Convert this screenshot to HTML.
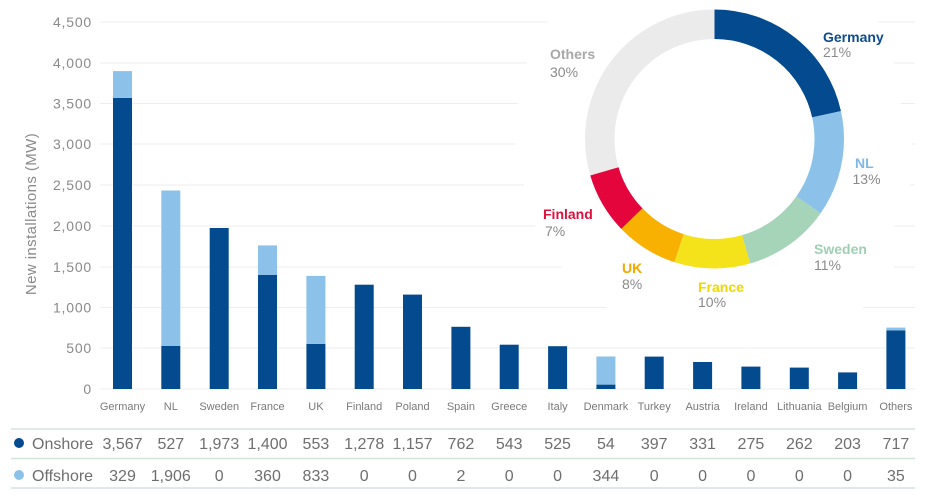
<!DOCTYPE html>
<html>
<head>
<meta charset="utf-8">
<style>
html,body{margin:0;padding:0;background:#fff;}
svg{display:block;}
text{font-family:"Liberation Sans",Arial,sans-serif;}
</style>
</head>
<body>
<svg width="926" height="500" viewBox="0 0 926 500" xmlns="http://www.w3.org/2000/svg">
  <rect width="926" height="500" fill="#fff"/>
  <!-- gridlines -->
  <g stroke="#eeeeee" stroke-width="1">
    <line x1="100" y1="22" x2="915" y2="22"/>
    <line x1="100" y1="63" x2="915" y2="63"/>
    <line x1="100" y1="103.5" x2="915" y2="103.5"/>
    <line x1="100" y1="144" x2="915" y2="144"/>
    <line x1="100" y1="185" x2="915" y2="185"/>
    <line x1="100" y1="226" x2="915" y2="226"/>
    <line x1="100" y1="267" x2="915" y2="267"/>
    <line x1="100" y1="307.5" x2="915" y2="307.5"/>
    <line x1="100" y1="348" x2="915" y2="348"/>
    <line x1="100" y1="389" x2="915" y2="389"/>
  </g>
  <!-- y tick labels -->
  <g fill="#8a8a8a" font-size="14" text-anchor="end" letter-spacing="0.8">
    <text x="92" y="27">4,500</text>
    <text x="92" y="68">4,000</text>
    <text x="92" y="108.5">3,500</text>
    <text x="92" y="149">3,000</text>
    <text x="92" y="190">2,500</text>
    <text x="92" y="231">2,000</text>
    <text x="92" y="272">1,500</text>
    <text x="92" y="312.5">1,000</text>
    <text x="92" y="353">500</text>
    <text x="92" y="394">0</text>
  </g>
  <text transform="translate(36,214) rotate(-90)" text-anchor="middle" fill="#8a8a8a" font-size="15" letter-spacing="0.4">New installations (MW)</text>

  <!-- bars: zero y=389, scale 0.0816 px/MW, centers 122.5 + i*48.34, width 19 -->
  <g>
    <!-- Germany 3567/329 -->
    <rect x="113" y="97.9" width="19" height="291.1" fill="#034a8e"/>
    <rect x="113" y="71.1" width="19" height="26.8" fill="#8cc2ea"/>
    <!-- NL 527/1906 -->
    <rect x="161.3" y="346" width="19" height="43" fill="#034a8e"/>
    <rect x="161.3" y="190.5" width="19" height="155.5" fill="#8cc2ea"/>
    <!-- Sweden 1973 -->
    <rect x="209.7" y="228" width="19" height="161" fill="#034a8e"/>
    <!-- France 1400/360 -->
    <rect x="258" y="274.8" width="19" height="114.2" fill="#034a8e"/>
    <rect x="258" y="245.4" width="19" height="29.4" fill="#8cc2ea"/>
    <!-- UK 553/833 -->
    <rect x="306.4" y="343.9" width="19" height="45.1" fill="#034a8e"/>
    <rect x="306.4" y="275.9" width="19" height="68" fill="#8cc2ea"/>
    <!-- Finland 1278 -->
    <rect x="354.7" y="284.7" width="19" height="104.3" fill="#034a8e"/>
    <!-- Poland 1157 -->
    <rect x="403" y="294.6" width="19" height="94.4" fill="#034a8e"/>
    <!-- Spain 762/2 -->
    <rect x="451.4" y="326.8" width="19" height="62.2" fill="#034a8e"/>
    <!-- Greece 543 -->
    <rect x="499.7" y="344.7" width="19" height="44.3" fill="#034a8e"/>
    <!-- Italy 525 -->
    <rect x="548.1" y="346.2" width="19" height="42.8" fill="#034a8e"/>
    <!-- Denmark 54/344 -->
    <rect x="596.4" y="384.6" width="19" height="4.4" fill="#034a8e"/>
    <rect x="596.4" y="356.5" width="19" height="28.1" fill="#8cc2ea"/>
    <!-- Turkey 397 -->
    <rect x="644.7" y="356.6" width="19" height="32.4" fill="#034a8e"/>
    <!-- Austria 331 -->
    <rect x="693.1" y="362" width="19" height="27" fill="#034a8e"/>
    <!-- Ireland 275 -->
    <rect x="741.4" y="366.6" width="19" height="22.4" fill="#034a8e"/>
    <!-- Lithuania 262 -->
    <rect x="789.8" y="367.6" width="19" height="21.4" fill="#034a8e"/>
    <!-- Belgium 203 -->
    <rect x="838.1" y="372.4" width="19" height="16.6" fill="#034a8e"/>
    <!-- Others 717/35 -->
    <rect x="886.4" y="330.5" width="19" height="58.5" fill="#034a8e"/>
    <rect x="886.4" y="327.6" width="19" height="2.9" fill="#8cc2ea"/>
  </g>

  <!-- x labels -->
  <g fill="#7a7a7a" font-size="11" text-anchor="middle">
    <text x="122.5" y="410">Germany</text>
    <text x="170.8" y="410">NL</text>
    <text x="219.2" y="410">Sweden</text>
    <text x="267.5" y="410">France</text>
    <text x="315.9" y="410">UK</text>
    <text x="364.2" y="410">Finland</text>
    <text x="412.5" y="410">Poland</text>
    <text x="460.9" y="410">Spain</text>
    <text x="509.2" y="410">Greece</text>
    <text x="557.6" y="410">Italy</text>
    <text x="605.9" y="410">Denmark</text>
    <text x="654.2" y="410">Turkey</text>
    <text x="702.6" y="410">Austria</text>
    <text x="750.9" y="410">Ireland</text>
    <text x="799.3" y="410">Lithuania</text>
    <text x="847.6" y="410">Belgium</text>
    <text x="895.9" y="410">Others</text>
  </g>

  <!-- white occlusion behind donut -->
  <polygon fill="#fff" points="555,8 872,8 892,55 900,100 912,144 910,190 894,222 894,270 863,300 863,313 613,313 565,272 538,235 515,150 518,100 528,60"/>

  <!-- donut: center 714.5,139 r=114.75 stroke 29.5, C=721 -->
  <g transform="rotate(-90 714.5 139)" fill="none" stroke-width="29.5">
    <circle cx="714.5" cy="139" r="114.75" stroke="#ebebeb" stroke-dasharray="213.5 800" stroke-dashoffset="-507.7"/>
    <circle cx="714.5" cy="139" r="114.75" stroke="#034a8e" stroke-dasharray="155.2 800" stroke-dashoffset="0"/>
    <circle cx="714.5" cy="139" r="114.75" stroke="#8cc2ea" stroke-dasharray="95.1 800" stroke-dashoffset="-155.2"/>
    <circle cx="714.5" cy="139" r="114.75" stroke="#a6d4b8" stroke-dasharray="78.1 800" stroke-dashoffset="-250.3"/>
    <circle cx="714.5" cy="139" r="114.75" stroke="#f4e31a" stroke-dasharray="68.1 800" stroke-dashoffset="-328.4"/>
    <circle cx="714.5" cy="139" r="114.75" stroke="#f8b001" stroke-dasharray="56.1 800" stroke-dashoffset="-396.5"/>
    <circle cx="714.5" cy="139" r="114.75" stroke="#e3053c" stroke-dasharray="55.1 800" stroke-dashoffset="-452.6"/>
  </g>

  <!-- donut labels -->
  <g font-size="14">
    <text x="823" y="42" fill="#0d4b8e" font-weight="bold">Germany</text>
    <text x="823" y="57" fill="#8a8a8a">21%</text>
    <text x="550" y="59" fill="#a8a8a8" font-weight="bold">Others</text>
    <text x="550" y="77" fill="#8a8a8a">30%</text>
    <text x="855" y="168" fill="#7fb9e4" font-weight="bold">NL</text>
    <text x="852.5" y="184" fill="#8a8a8a">13%</text>
    <text x="814" y="254" fill="#9fcfb2" font-weight="bold">Sweden</text>
    <text x="814" y="270" fill="#8a8a8a">11%</text>
    <text x="698" y="292" fill="#f0d800" font-weight="bold">France</text>
    <text x="698" y="307" fill="#8a8a8a">10%</text>
    <text x="622" y="273" fill="#f5a800" font-weight="bold">UK</text>
    <text x="622" y="289" fill="#8a8a8a">8%</text>
    <text x="543" y="219" fill="#e0103d" font-weight="bold">Finland</text>
    <text x="545" y="236" fill="#8a8a8a">7%</text>
  </g>

  <!-- table -->
  <g stroke="#d3e4da" stroke-width="1.5">
    <line x1="11" y1="429" x2="915" y2="429"/>
    <line x1="11" y1="458.5" x2="915" y2="458.5"/>
    <line x1="11" y1="488" x2="915" y2="488"/>
  </g>
  <circle cx="19" cy="443" r="5" fill="#034a8e"/>
  <circle cx="19" cy="475" r="5" fill="#8cc2ea"/>
  <g fill="#6e6e6e" font-size="16">
    <text x="32" y="449">Onshore</text>
    <text x="32" y="481">Offshore</text>
  </g>
  <g fill="#6e6e6e" font-size="16" text-anchor="middle">
    <text x="122.5" y="449">3,567</text>
    <text x="170.8" y="449">527</text>
    <text x="219.2" y="449">1,973</text>
    <text x="267.5" y="449">1,400</text>
    <text x="315.9" y="449">553</text>
    <text x="364.2" y="449">1,278</text>
    <text x="412.5" y="449">1,157</text>
    <text x="460.9" y="449">762</text>
    <text x="509.2" y="449">543</text>
    <text x="557.6" y="449">525</text>
    <text x="605.9" y="449">54</text>
    <text x="654.2" y="449">397</text>
    <text x="702.6" y="449">331</text>
    <text x="750.9" y="449">275</text>
    <text x="799.3" y="449">262</text>
    <text x="847.6" y="449">203</text>
    <text x="895.9" y="449">717</text>

    <text x="122.5" y="481">329</text>
    <text x="170.8" y="481">1,906</text>
    <text x="219.2" y="481">0</text>
    <text x="267.5" y="481">360</text>
    <text x="315.9" y="481">833</text>
    <text x="364.2" y="481">0</text>
    <text x="412.5" y="481">0</text>
    <text x="460.9" y="481">2</text>
    <text x="509.2" y="481">0</text>
    <text x="557.6" y="481">0</text>
    <text x="605.9" y="481">344</text>
    <text x="654.2" y="481">0</text>
    <text x="702.6" y="481">0</text>
    <text x="750.9" y="481">0</text>
    <text x="799.3" y="481">0</text>
    <text x="847.6" y="481">0</text>
    <text x="895.9" y="481">35</text>
  </g>
</svg>
</body>
</html>
